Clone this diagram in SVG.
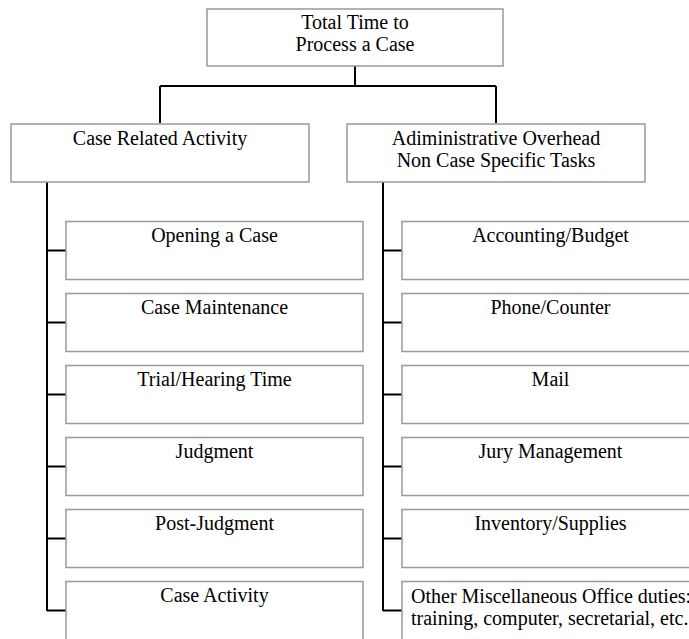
<svg xmlns="http://www.w3.org/2000/svg" width="689" height="639" viewBox="0 0 689 639">
<style>
.box{fill:#fff;stroke:#999;stroke-width:1.5}
.t{font-family:"Liberation Serif","Times New Roman",serif;font-size:20px;fill:#000;text-anchor:middle}
.tl{font-family:"Liberation Serif","Times New Roman",serif;font-size:20px;fill:#000;text-anchor:start}
.c{fill:none;stroke:#000;stroke-width:2}
</style>
<rect width="689" height="639" fill="#fff"/>
<g id="connectors">
<path class="c" d="M355 66V86M160 86H496M160 86V123M496 86V123"/>
<path class="c" d="M47 182V611M47 250.5H66M47 322.5H66M47 394.5H66M47 466.5H66M47 538.5H66M47 610.5H66"/>
<path class="c" d="M383 182V611M383 250.5H402M383 322.5H402M383 394.5H402M383 466.5H402M383 538.5H402M383 610.5H402"/>
</g>
<g id="root"><rect class="box" x="207" y="9" width="296" height="57"/><text class="t" x="355" y="29">Total Time to</text><text class="t" x="355" y="51">Process a Case</text></g>
<g id="case-related"><rect class="box" x="11" y="124" width="298" height="58"/><text class="t" x="160" y="145">Case Related Activity</text></g>
<g id="admin-overhead"><rect class="box" x="347" y="124" width="298" height="58"/><text class="t" x="496" y="145">Adiministrative Overhead</text><text class="t" x="496" y="167">Non Case Specific Tasks</text></g>
<g id="opening"><rect class="box" x="66" y="221.5" width="297" height="58"/><text class="t" x="214.5" y="242">Opening a Case</text></g>
<g id="maintenance"><rect class="box" x="66" y="293.5" width="297" height="58"/><text class="t" x="214.5" y="314">Case Maintenance</text></g>
<g id="trial"><rect class="box" x="66" y="365.5" width="297" height="58"/><text class="t" x="214.5" y="386">Trial/Hearing Time</text></g>
<g id="judgment"><rect class="box" x="66" y="437.5" width="297" height="58"/><text class="t" x="214.5" y="458">Judgment</text></g>
<g id="post-judgment"><rect class="box" x="66" y="509.5" width="297" height="58"/><text class="t" x="214.5" y="530">Post-Judgment</text></g>
<g id="case-activity"><rect class="box" x="66" y="581.5" width="297" height="70"/><text class="t" x="214.5" y="602">Case Activity</text></g>
<g id="accounting"><rect class="box" x="402" y="221.5" width="297" height="58"/><text class="t" x="550.5" y="242">Accounting/Budget</text></g>
<g id="phone"><rect class="box" x="402" y="293.5" width="297" height="58"/><text class="t" x="550.5" y="314">Phone/Counter</text></g>
<g id="mail"><rect class="box" x="402" y="365.5" width="297" height="58"/><text class="t" x="550.5" y="386">Mail</text></g>
<g id="jury"><rect class="box" x="402" y="437.5" width="297" height="58"/><text class="t" x="550.5" y="458">Jury Management</text></g>
<g id="inventory"><rect class="box" x="402" y="509.5" width="297" height="58"/><text class="t" x="550.5" y="530">Inventory/Supplies</text></g>
<g id="other"><rect class="box" x="402" y="581.5" width="297" height="70"/><text class="tl" x="411" y="603">Other Miscellaneous Office duties:</text><text class="tl" x="411" y="625">training, computer, secretarial, etc.</text></g>
</svg>
